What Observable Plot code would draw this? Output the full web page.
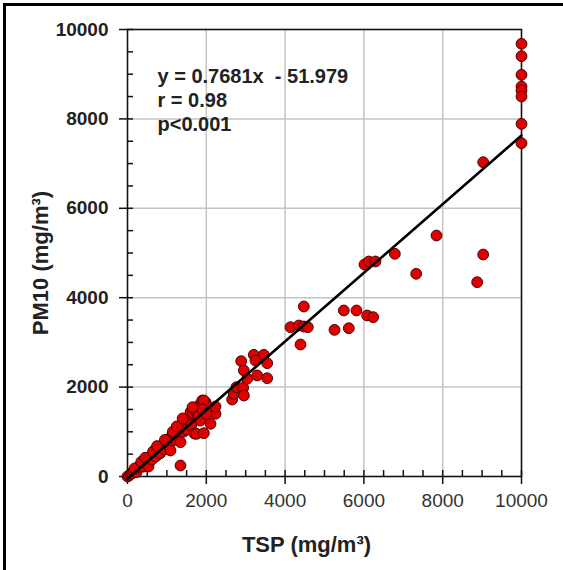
<!DOCTYPE html>
<html><head><meta charset="utf-8">
<script src="https://cdn.jsdelivr.net/npm/d3@7"></script>
<script src="https://cdn.jsdelivr.net/npm/@observablehq/plot@0.6"></script>
<style>
html,body{margin:0;padding:0;background:#fff;}
#wrap{position:relative;width:563px;height:570px;overflow:hidden;}
.bl{position:absolute;left:3px;top:3px;width:3px;height:567px;background:#000;}
.bt{position:absolute;left:3px;top:3px;width:560px;height:3px;background:#000;}
</style></head><body><div id="wrap"><div class="bl"></div><div class="bt"></div></div>
<script>
// TSP (x) and PM10 (y) observations, mg/m3
const tsp = [0,40,80,120,150,200,230,260,300,330,380,400,430,480,520,533,560,600,620,660,700,720,760,800,830,870,900,940,980,1000,1050,1091,1100,1150,1200,1230,1280,1303,1345,1345,1380,1420,1450,1500,1500,1560,1599,1620,1660,1700,1726,1751,1780,1800,1850,1896,1937,1980,2005,2107,2234,1937,2234,1900,1850,2000,
  180,350,450,650,750,950,1150,1250,1400,1650,
  2657,2698,2766,2886,2936,2953,2953,3038,3206,3249,3292,3460,3545,3545,
  4137,4348,4475,4576,4391,4475,
  5254,5617,5490,5812,6083,6235,6015,6125,6294,
  6785,7327,7843,8875,9028,9028,
  10000,10000,10000,10000,10000,10000,10000,10000];
const pm10 = [0,20,60,70,120,140,100,200,210,260,290,220,340,360,400,224,430,470,380,510,540,450,600,620,520,680,700,610,780,760,680,582,880,900,960,820,1050,1067,767,246,1120,1000,1200,1253,1050,1300,1439,1150,1420,960,1476,955,1560,1350,1620,1700,969,1662,1588,1179,1403,1700,1566,1500,1250,1400,
  180,330,420,560,680,820,1000,1120,1300,1550,
  1723,1850,1998,2580,1984,1812,2371,2186,2722,2595,2260,2722,2535,2199,
  3340,3378,3356,3340,2953,3803,
  3281,3318,3714,3714,3602,3564,4743,4810,4810,
  4982,4535,5391,4347,4966,7031,
  9680,9403,8987,8725,8635,8501,7890,7456];
// regression line coefficients and stats text
const slope = 0.7681, intercept = -51.979;
const fitX = [0, 10000];
const statsText = ["y = 0.7681x\u00a0 - 51.979", "r = 0.98", "p<0.001"];
const majorTicks = [0, 2000, 4000, 6000, 8000, 10000];
const minorTicks = [0,500,1000,1500,2000,2500,3000,3500,4000,4500,5000,5500,6000,6500,7000,7500,8000,8500,9000,9500,10000];
const xTitle = "TSP (mg/m\u00b3)";
const yTitle = "PM10 (mg/m\u00b3)";

const points = tsp.map((x, i) => ({x, y: pm10[i]}));
const fit = fitX.map(x => ({x, y: slope * x + intercept}));

const chart = Plot.plot({
  width: 563,
  height: 570,
  marginLeft: 127,
  marginRight: 42,
  marginTop: 29,
  marginBottom: 94,
  style: {fontFamily: "'Liberation Sans', Arial, sans-serif", background: "transparent"},
  x: {domain: [0, 10000]},
  y: {domain: [0, 10000]},
  marks: [
    Plot.gridX(majorTicks, {stroke: "#c4c4c4", strokeOpacity: 1, strokeWidth: 1.5}),
    Plot.gridY(majorTicks, {stroke: "#c4c4c4", strokeOpacity: 1, strokeWidth: 1.5}),
    Plot.frame({stroke: "#111", strokeWidth: 1.5}),
    Plot.axisX(majorTicks, {tickSize: 8, tickPadding: 9, stroke: "#111", strokeWidth: 1.5, fontSize: 19, fill: "#333", label: null, tickFormat: d => String(d)}),
    Plot.axisX(minorTicks, {tickSize: -6, text: null, stroke: "#111", strokeWidth: 1.5, label: null}),
    Plot.axisY(majorTicks, {tickSize: 8, tickPadding: 11, stroke: "#111", strokeWidth: 1.5, fontSize: 19, fontWeight: "bold", fill: "#222", label: null, tickFormat: d => String(d)}),
    Plot.axisY(minorTicks, {tickSize: -6, text: null, stroke: "#111", strokeWidth: 1.5, label: null}),
    Plot.dot(points, {x: "x", y: "y", r: 5.4, fill: "#e00000", stroke: "#4a0000", strokeWidth: 1, clip: false}),
    Plot.line(fit, {x: "x", y: "y", stroke: "#000", strokeWidth: 2.6}),
    Plot.text([statsText.join("\n")], {frameAnchor: "top-left", dx: 30, dy: 70, textAnchor: "start", lineAnchor: "middle", lineHeight: 1.2, fontSize: 20, fontWeight: "bold", fill: "#222"}),
    Plot.text([xTitle], {frameAnchor: "bottom", dx: -18, dy: 75, fontSize: 22, fontWeight: "bold", fill: "#222"}),
    Plot.text([yTitle], {frameAnchor: "left", dx: -87, dy: 10, rotate: -90, textAnchor: "middle", fontSize: 22, fontWeight: "bold", fill: "#222"})
  ]
});
document.getElementById("wrap").prepend(chart);
</script>
</body></html>
